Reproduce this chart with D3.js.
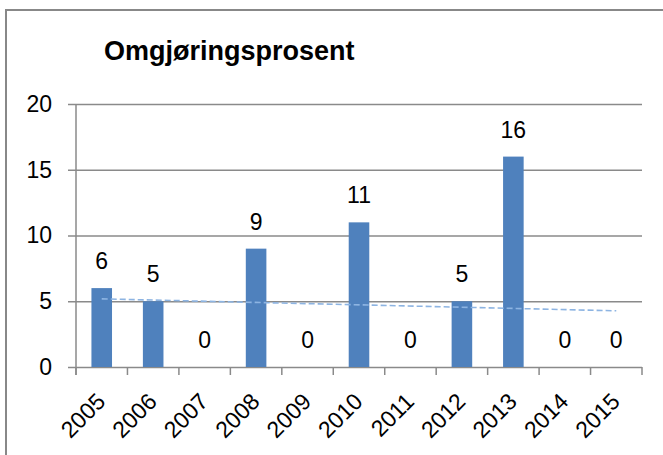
<!DOCTYPE html>
<html>
<head>
<meta charset="utf-8">
<script src="https://cdn.jsdelivr.net/npm/d3@7"></script>
<style>
  html, body { margin: 0; padding: 0; background: #fff; }
  svg { display: block; font-family: "Liberation Sans", Arial, sans-serif; }
</style>
</head>
<body>
<svg id="chart" width="663" height="455"></svg>
<script>
const title = "Omgjøringsprosent";
const years = ["2005","2006","2007","2008","2009","2010","2011","2012","2013","2014","2015"];
const values = [6, 5, 0, 9, 0, 11, 0, 5, 16, 0, 0];
const yTicks = [0, 5, 10, 15, 20];

const svg = d3.select("#chart");
const plotLeft = 76, plotRight = 642, plotTop = 104, plotBottom = 367;
const numSize = 23;

// outer border
svg.append("rect").attr("x", 6).attr("y", 10).attr("width", 670).attr("height", 460)
  .attr("fill", "#fff").attr("stroke", "#888").attr("stroke-width", 2);

svg.append("text").attr("x", 104).attr("y", 60)
  .attr("font-size", 27).attr("font-weight", "bold").attr("fill", "#000")
  .text(title);

const x = d3.scaleBand().domain(years).range([plotLeft, plotRight]).paddingInner(0.6).paddingOuter(0.3);
const y = d3.scaleLinear().domain([0, 20]).range([plotBottom, plotTop]);

// y axis with gridlines
const yAxis = svg.append("g").attr("transform", `translate(${plotLeft - 8},0)`)
  .call(d3.axisLeft(y).tickValues(yTicks).tickSize(-(plotRight - plotLeft + 8)).tickPadding(16));
yAxis.select(".domain").remove();
yAxis.selectAll(".tick line").attr("stroke", "#8a8a8a").attr("stroke-width", 1.5);
yAxis.selectAll(".tick text").attr("font-size", numSize).attr("fill", "#000")
  .attr("font-family", "Liberation Sans, Arial, sans-serif");

// vertical axis line
svg.append("line").attr("x1", plotLeft).attr("x2", plotLeft).attr("y1", y(20)).attr("y2", plotBottom + 8)
  .attr("stroke", "#8a8a8a").attr("stroke-width", 1.5);

// x tick marks at category boundaries
const step = x.step();
const x0 = x(years[0]) - step * x.paddingOuter();
svg.append("g").selectAll("line").data(d3.range(years.length + 1)).join("line")
  .attr("x1", i => x0 + i * step)
  .attr("x2", i => x0 + i * step)
  .attr("y1", plotBottom).attr("y2", plotBottom + 8)
  .attr("stroke", "#8a8a8a").attr("stroke-width", 1.5);

// bars
svg.append("g").selectAll("rect").data(years).join("rect")
  .attr("x", (d) => x(d))
  .attr("width", x.bandwidth())
  .attr("y", (d, i) => y(values[i]))
  .attr("height", (d, i) => y(0) - y(values[i]))
  .attr("fill", "#4F81BD");

// x axis labels
const xAxis = svg.append("g").attr("transform", `translate(0,${plotBottom})`)
  .call(d3.axisBottom(x).tickSize(0));
xAxis.select(".domain").remove();
xAxis.selectAll(".tick text")
  .attr("font-size", numSize).attr("fill", "#000")
  .attr("font-family", "Liberation Sans, Arial, sans-serif")
  .attr("text-anchor", "end").attr("y", 0).attr("dy", 0)
  .attr("transform", "translate(5,36) rotate(-45)");

// trendline (linear regression, as the spreadsheet's trendline)
const n = values.length;
const xs = d3.range(n);
const mx = d3.mean(xs), my = d3.mean(values);
const slope = d3.sum(xs, i => (i - mx) * (values[i] - my)) / d3.sum(xs, i => (i - mx) ** 2);
const icpt = my - slope * mx;
svg.append("line")
  .attr("x1", x(years[0]) + x.bandwidth() / 2).attr("y1", y(icpt))
  .attr("x2", x(years[n - 1]) + x.bandwidth() / 2).attr("y2", y(icpt + slope * (n - 1)))
  .attr("stroke", "#8DB4E2").attr("stroke-width", 1.6).attr("stroke-dasharray", "6,3");

// value labels
svg.append("g").selectAll("text").data(years).join("text")
  .attr("x", d => x(d) + x.bandwidth() / 2)
  .attr("y", (d, i) => y(values[i]) - 19)
  .attr("text-anchor", "middle").attr("font-size", numSize).attr("fill", "#000")
  .text((d, i) => values[i]);
</script>
</body>
</html>
